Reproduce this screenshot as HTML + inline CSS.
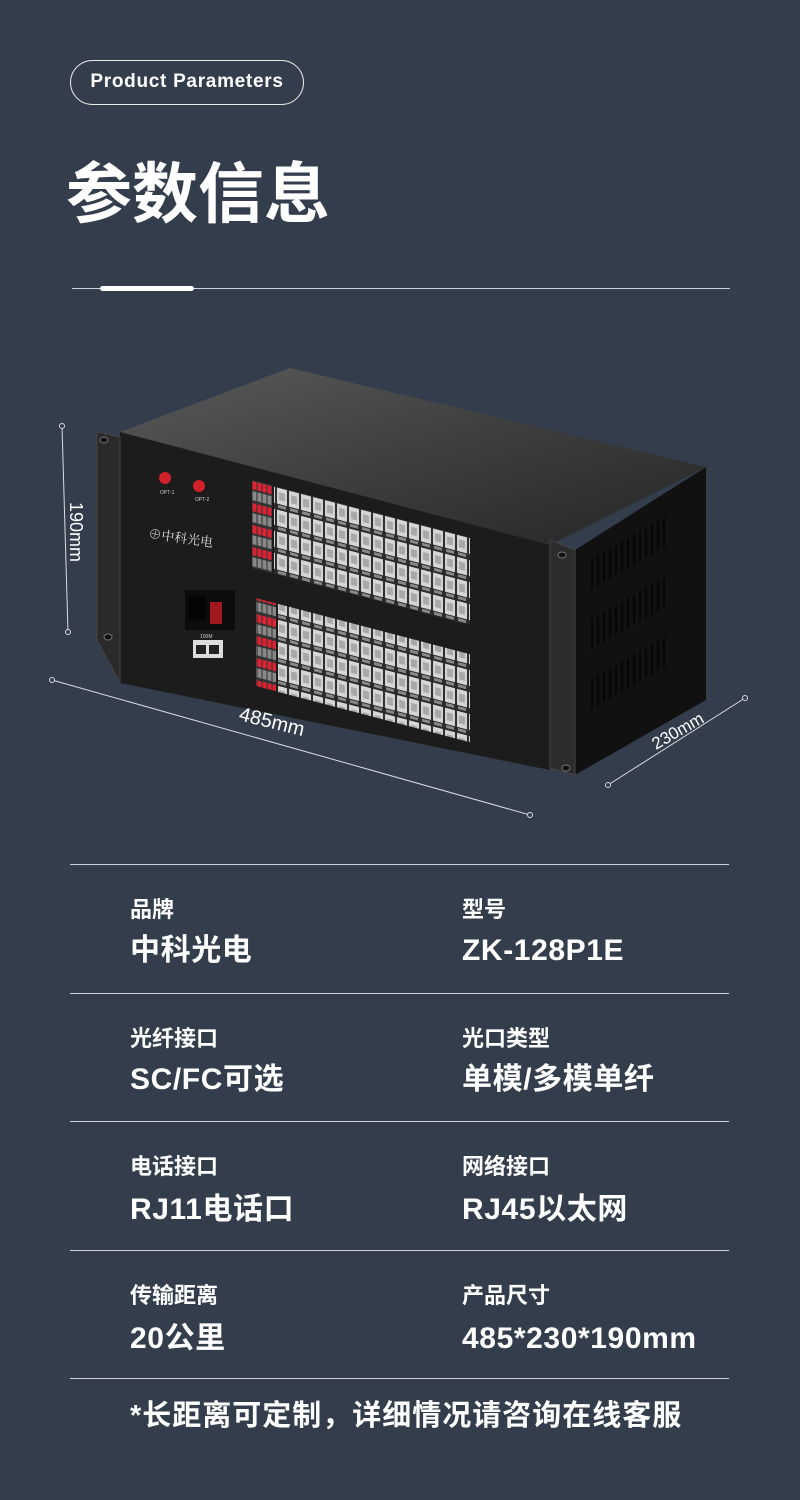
<!DOCTYPE html>
<html><head><meta charset="utf-8"><style>
html,body{margin:0;padding:0}
body{width:800px;height:1500px;background:#343d4c;position:relative;overflow:hidden;font-family:"Liberation Sans","Noto Sans CJK SC",sans-serif;color:#fff}
.pill{position:absolute;left:70px;top:60px;width:234px;height:45px;border:1.5px solid #e8e8e8;border-radius:23px;box-sizing:border-box;font-size:19px;font-weight:bold;line-height:42px;text-align:center;letter-spacing:0.7px}
.title{position:absolute;left:66px;top:149px;font-size:66px;font-weight:bold;line-height:80px;font-family:"Noto Sans CJK SC",sans-serif}
.hl{position:absolute;height:1px;background:#cfd3d9}
.lab{position:absolute;font-size:22px;font-weight:bold;font-family:"Noto Sans CJK SC",sans-serif;line-height:30px}
.val{position:absolute;font-size:30px;font-weight:bold;letter-spacing:0.6px;font-family:"Liberation Sans","Noto Sans CJK SC",sans-serif;line-height:36px}
</style></head><body>
<div class="pill">Product Parameters</div>
<div class="title">参数信息</div>
<div class="hl" style="left:72px;top:288px;width:658px"></div>
<div style="position:absolute;left:100px;top:286px;width:94px;height:5px;border-radius:3px;background:#fff"></div>

<svg style="position:absolute;left:0;top:0" width="800" height="860">
<defs>
<linearGradient id="top" x1="0" y1="0" x2="1" y2="1"><stop offset="0" stop-color="#5a5a5a"/><stop offset="0.5" stop-color="#3e3e3e"/><stop offset="1" stop-color="#252525"/></linearGradient>
<pattern id="port" width="12" height="22" patternUnits="userSpaceOnUse"><rect width="12" height="22" fill="#2a2a2a"/><rect x="1" y="1" width="10" height="16" fill="#d6d6d6"/><rect x="3" y="5" width="6" height="8" fill="#a8a8a8"/><rect x="2" y="18" width="8" height="3" fill="#888"/></pattern>
<pattern id="led" width="5" height="22" patternUnits="userSpaceOnUse"><rect width="5" height="22" fill="#333"/><rect x="0.5" y="1" width="4" height="8" fill="#d23"/><rect x="0.5" y="11" width="4" height="9" fill="#888"/></pattern>
<pattern id="vent" width="6" height="30" patternUnits="userSpaceOnUse"><rect width="6" height="30" fill="#111"/><rect x="1" y="0" width="2" height="30" fill="#050505"/></pattern>
</defs>
<polygon points="120,432 290,368 706,467 550,545" fill="url(#top)"/>
<polygon points="575,550 706,467 706,700 575,775" fill="#111"/>
<g transform="translate(590,560) skewY(-30)"><rect x="0" y="0" width="75" height="30" fill="url(#vent)"/><rect x="0" y="60" width="75" height="30" fill="url(#vent)"/><rect x="0" y="120" width="75" height="30" fill="url(#vent)"/></g>
<polygon points="120,432 550,545 550,770 120,683" fill="#1c1c1c"/>
<polygon points="97,432 120,437 120,683 97,640" fill="#2a2a2a" stroke="#444"/>
<polygon points="550,540 575,550 575,775 550,768" fill="#2c2c2c" stroke="#444"/>
<ellipse cx="104" cy="440" rx="4" ry="3" fill="#111" stroke="#777"/>
<ellipse cx="108" cy="637" rx="4" ry="3" fill="#111" stroke="#777"/>
<ellipse cx="562" cy="555" rx="4" ry="3" fill="#111" stroke="#777"/>
<ellipse cx="566" cy="768" rx="4" ry="3" fill="#111" stroke="#777"/>
<circle cx="165" cy="478" r="6" fill="#d0202a"/><circle cx="199" cy="486" r="6" fill="#d0202a"/>
<text x="160" y="494" font-size="5" fill="#ccc">OPT-1</text><text x="195" y="501" font-size="5" fill="#ccc">OPT-2</text>
<text x="148" y="538" font-size="13" fill="#ddd" font-family="Noto Serif CJK SC,serif" transform="rotate(8 148 538)">⊕中科光电</text>
<rect x="185" y="590" width="50" height="40" fill="#0c0c0c"/><rect x="188" y="596" width="18" height="24" fill="#050505"/><rect x="210" y="602" width="12" height="22" fill="#a01820"/>
<rect x="193" y="640" width="30" height="18" fill="#ddd"/><rect x="196" y="645" width="10" height="9" fill="#222"/><rect x="209" y="645" width="10" height="9" fill="#222"/>
<text x="200" y="638" font-size="5" fill="#ccc">100M</text>
<g transform="translate(252,480) skewY(14.7)">
<rect x="0" y="0" width="20" height="88" fill="url(#led)"/>
<rect x="22" y="0" width="196" height="88" fill="url(#port)"/>
<rect x="4" y="117" width="20" height="88" fill="url(#led)"/>
<rect x="26" y="117" width="192" height="88" fill="url(#port)"/>
</g>
<g stroke="#d8dce2" stroke-width="1" fill="#343d4c">
<line x1="62" y1="426" x2="68" y2="632"/><circle cx="62" cy="426" r="2.5"/><circle cx="68" cy="632" r="2.5"/>
<line x1="52" y1="680" x2="530" y2="815"/><circle cx="52" cy="680" r="2.5"/><circle cx="530" cy="815" r="2.5"/>
<line x1="608" y1="785" x2="745" y2="698"/><circle cx="608" cy="785" r="2.5"/><circle cx="745" cy="698" r="2.5"/>
</g>
<text x="70" y="502" font-size="18" fill="#fff" transform="rotate(90 70 502)">190mm</text>
<text x="238" y="720" font-size="20" fill="#fff" transform="rotate(14 238 720)">485mm</text>
<text x="656" y="750" font-size="17" fill="#fff" transform="rotate(-30 656 750)">230mm</text>
</svg>

<div class="hl" style="left:70px;top:864px;width:659px"></div>
<div class="hl" style="left:70px;top:993px;width:659px"></div>
<div class="hl" style="left:70px;top:1121px;width:659px"></div>
<div class="hl" style="left:70px;top:1250px;width:659px"></div>
<div class="hl" style="left:70px;top:1378px;width:659px"></div>

<div class="lab" style="left:130px;top:893px">品牌</div><div class="val" style="left:130px;top:933px">中科光电</div>
<div class="lab" style="left:462px;top:893px">型号</div><div class="val" style="left:462px;top:933px">ZK-128P1E</div>
<div class="lab" style="left:130px;top:1022px">光纤接口</div><div class="val" style="left:130px;top:1062px">SC/FC可选</div>
<div class="lab" style="left:462px;top:1022px">光口类型</div><div class="val" style="left:462px;top:1062px">单模/多模单纤</div>
<div class="lab" style="left:130px;top:1150px">电话接口</div><div class="val" style="left:130px;top:1192px">RJ11电话口</div>
<div class="lab" style="left:462px;top:1150px">网络接口</div><div class="val" style="left:462px;top:1192px">RJ45以太网</div>
<div class="lab" style="left:130px;top:1279px">传输距离</div><div class="val" style="left:130px;top:1321px">20公里</div>
<div class="lab" style="left:462px;top:1279px">产品尺寸</div><div class="val" style="left:462px;top:1321px">485*230*190mm</div>
<div class="val" style="left:130px;top:1398px;font-size:29px;letter-spacing:1px">*长距离可定制，详细情况请咨询在线客服</div>
</body></html>
